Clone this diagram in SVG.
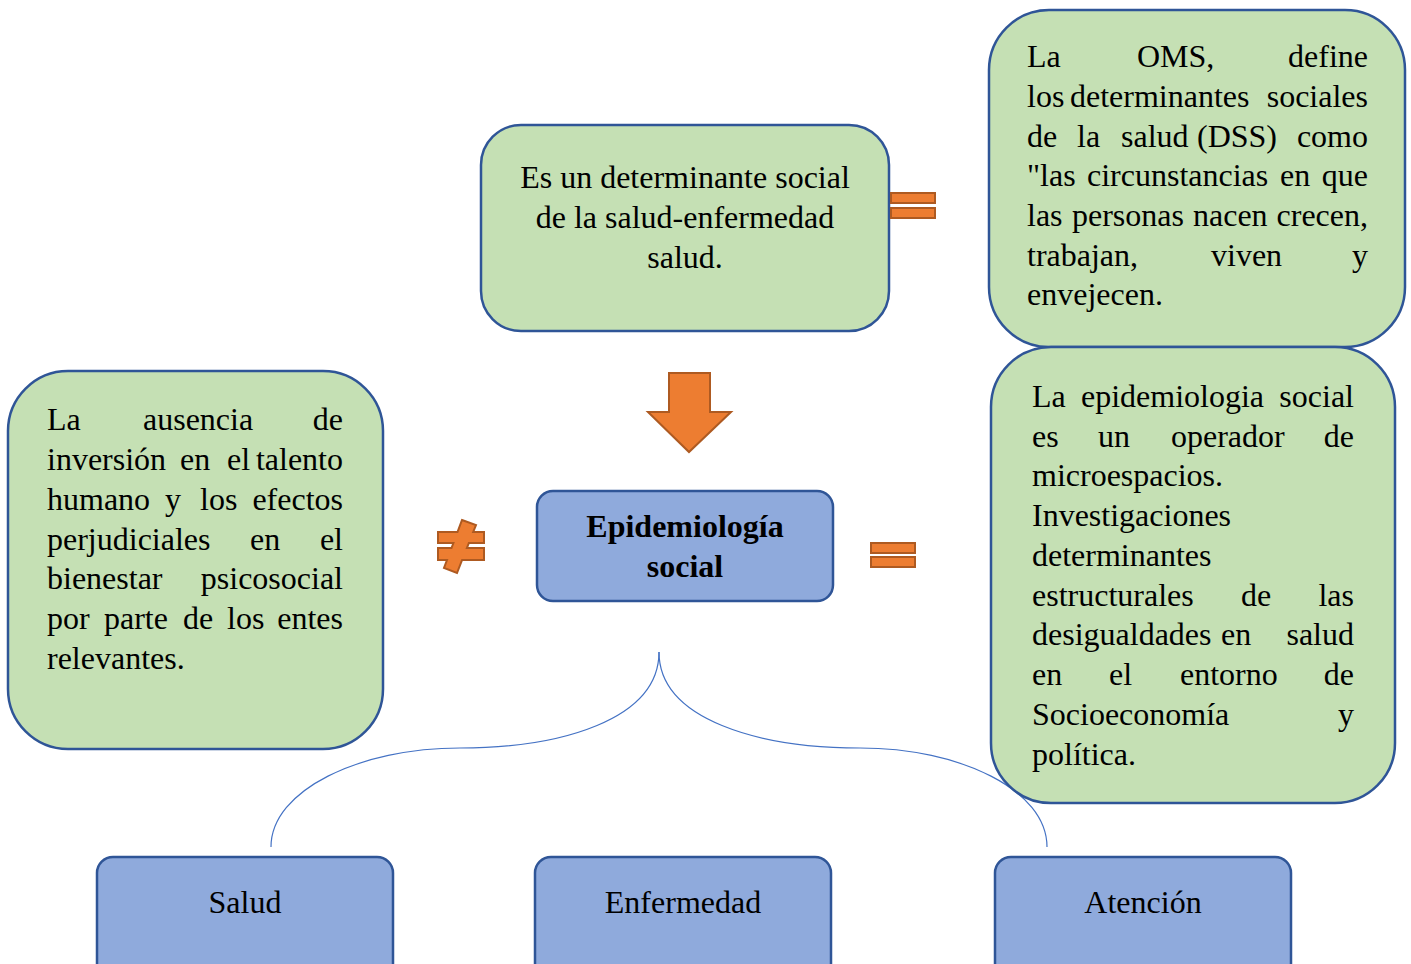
<svg xmlns="http://www.w3.org/2000/svg" width="1411" height="964" viewBox="0 0 1411 964">
<style>
.g{fill:#C5E0B4;stroke:#2F5597;stroke-width:2.5}
.b{fill:#8FAADC;stroke:#2F5597;stroke-width:2.5}
.o{fill:#ED7D31;stroke:#AE5A21;stroke-width:2}
.t{font-family:"Liberation Serif","Times New Roman",serif;font-size:32px;fill:#000}
.c{text-anchor:middle}
.e{text-anchor:end}
.bold{font-weight:bold}
.con{fill:none;stroke:#4472C4;stroke-width:1.2}
</style>
<rect width="1411" height="964" fill="#fff"/>
<g id="connectors">
<path class="con" d="M659,652 C659,720 560,748 460,748 C360,748 271,790 271,847"/>
<path class="con" d="M659,652 C659,720 760,748 860,748 C960,748 1047,790 1047,847"/>
</g>
<g id="node-top">
<rect class="g" x="481" y="125" width="408" height="206" rx="40"/>
<text class="t c" x="685" y="188">Es un determinante social</text>
<text class="t c" x="685" y="228">de la salud-enfermedad</text>
<text class="t c" x="685" y="268">salud.</text>
</g>
<g id="node-oms">
<rect class="g" x="989" y="10" width="416" height="337" rx="60"/>
<text class="t" y="67"><tspan x="1027">La</tspan><tspan x="1137">OMS,</tspan></text><text class="t e" x="1368" y="67">define</text>
<text class="t" y="107"><tspan x="1027">los</tspan><tspan x="1070">determinantes</tspan></text><text class="t e" x="1368" y="107">sociales</text>
<text class="t" y="147"><tspan x="1027">de</tspan><tspan x="1077">la</tspan><tspan x="1121">salud</tspan><tspan x="1197">(DSS)</tspan></text><text class="t e" x="1368" y="147">como</text>
<text class="t" y="186"><tspan x="1027">"las</tspan><tspan x="1087">circunstancias</tspan><tspan x="1280">en</tspan></text><text class="t e" x="1368" y="186">que</text>
<text class="t" y="226"><tspan x="1027">las</tspan><tspan x="1072">personas</tspan><tspan x="1193">nacen</tspan></text><text class="t e" x="1368" y="226">crecen,</text>
<text class="t" y="266"><tspan x="1027">trabajan,</tspan><tspan x="1211">viven</tspan></text><text class="t e" x="1368" y="266">y</text>
<text class="t" x="1027" y="305">envejecen.</text>
</g>
<g id="node-right">
<rect class="g" x="991" y="347" width="404" height="456" rx="60"/>
<text class="t" y="407"><tspan x="1032">La</tspan><tspan x="1081">epidemiologia</tspan></text><text class="t e" x="1354" y="407">social</text>
<text class="t" y="447"><tspan x="1032">es</tspan><tspan x="1098">un</tspan><tspan x="1171">operador</tspan></text><text class="t e" x="1354" y="447">de</text>
<text class="t" x="1032" y="486">microespacios.</text>
<text class="t" x="1032" y="526">Investigaciones</text>
<text class="t" x="1032" y="566">determinantes</text>
<text class="t" y="606"><tspan x="1032">estructurales</tspan><tspan x="1241">de</tspan></text><text class="t e" x="1354" y="606">las</text>
<text class="t" y="645"><tspan x="1032">desigualdades</tspan><tspan x="1221">en</tspan></text><text class="t e" x="1354" y="645">salud</text>
<text class="t" y="685"><tspan x="1032">en</tspan><tspan x="1109">el</tspan><tspan x="1180">entorno</tspan></text><text class="t e" x="1354" y="685">de</text>
<text class="t" x="1032" y="725">Socioeconomía</text><text class="t e" x="1354" y="725">y</text>
<text class="t" x="1032" y="765">política.</text>
</g>
<g id="node-left">
<rect class="g" x="8" y="371" width="375" height="378" rx="60"/>
<text class="t" y="430"><tspan x="47">La</tspan><tspan x="143">ausencia</tspan></text><text class="t e" x="343" y="430">de</text>
<text class="t" y="470"><tspan x="47">inversión</tspan><tspan x="180">en</tspan><tspan x="227">el</tspan></text><text class="t e" x="343" y="470">talento</text>
<text class="t" y="510"><tspan x="47">humano</tspan><tspan x="165">y</tspan><tspan x="200">los</tspan></text><text class="t e" x="343" y="510">efectos</text>
<text class="t" y="550"><tspan x="47">perjudiciales</tspan><tspan x="250">en</tspan></text><text class="t e" x="343" y="550">el</text>
<text class="t" x="47" y="589">bienestar</text><text class="t e" x="343" y="589">psicosocial</text>
<text class="t" y="629"><tspan x="47">por</tspan><tspan x="104">parte</tspan><tspan x="183">de</tspan><tspan x="227">los</tspan></text><text class="t e" x="343" y="629">entes</text>
<text class="t" x="47" y="669">relevantes.</text>
</g>
<g id="node-center">
<rect class="b" x="537" y="491" width="296" height="110" rx="16"/>
<text class="t c bold" x="685" y="537">Epidemiología</text>
<text class="t c bold" x="685" y="577">social</text>
</g>
<g id="node-salud">
<rect class="b" x="97" y="857" width="296" height="130" rx="16"/>
<text class="t c" x="245" y="913">Salud</text>
</g>
<g id="node-enfermedad">
<rect class="b" x="535" y="857" width="296" height="130" rx="16"/>
<text class="t c" x="683" y="913">Enfermedad</text>
</g>
<g id="node-atencion">
<rect class="b" x="995" y="857" width="296" height="130" rx="16"/>
<text class="t c" x="1143" y="913">Atención</text>
</g>
<g id="symbols">
<rect class="o" x="891" y="193" width="44" height="10"/>
<rect class="o" x="891" y="208" width="44" height="10"/>
<rect class="o" x="871" y="543" width="44" height="10"/>
<rect class="o" x="871" y="557" width="44" height="10"/>
<polygon class="o" points="462,520 476,525 473.2,532 484,532 484,543 468.9,543 466.9,548 484,548 484,560 462.1,560 457,573 444,568 447,560 438,560 438,548 451.5,548 453.4,543 438,543 438,532 457.5,532"/>
<polygon class="o" points="669,373 710,373 710,412 731,412 689,452 648,412 669,412"/>
</g>
</svg>
